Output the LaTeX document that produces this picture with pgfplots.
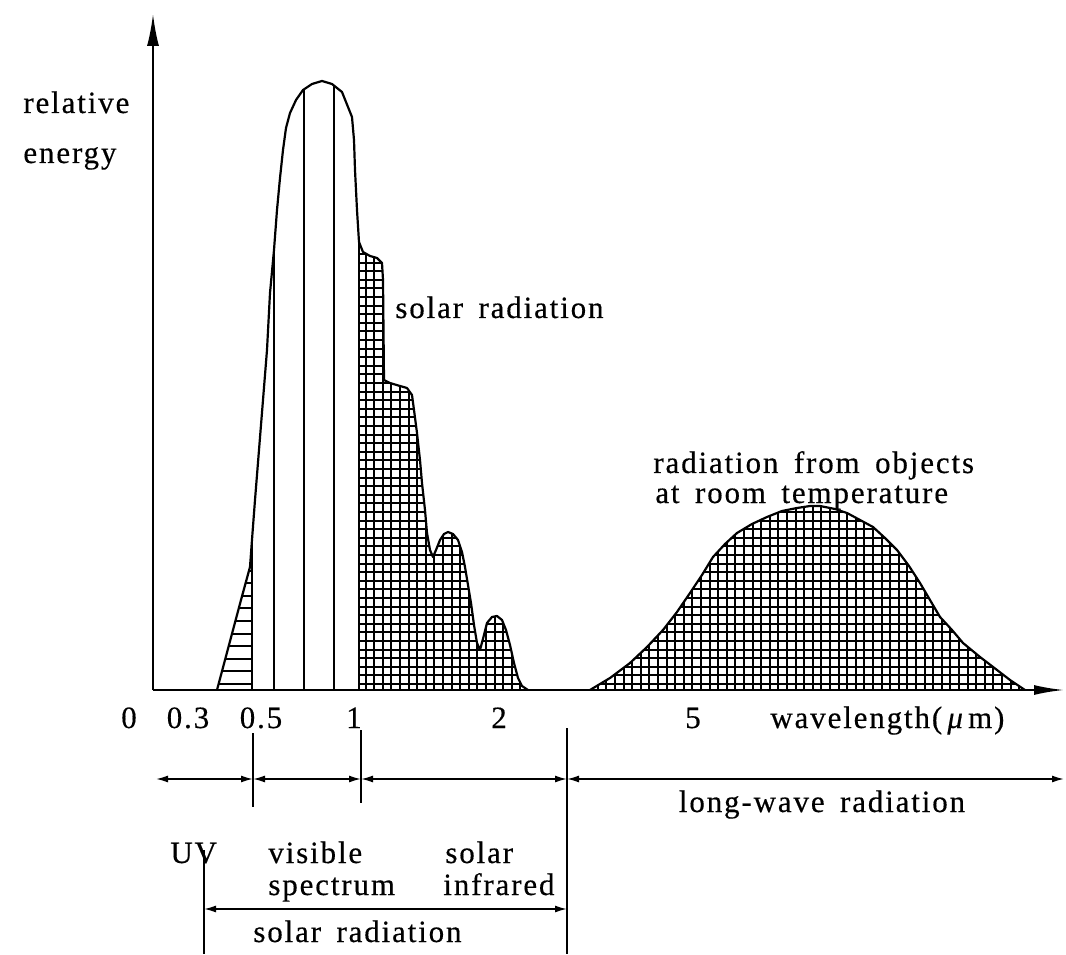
\documentclass[border=0pt]{standalone}
\usepackage{fontspec}
\setmainfont[LetterSpace=6,WordSpace={1.6},FakeBold=0.4]{Liberation Serif}
\usepackage{pgfplots}
\pgfplotsset{compat=1.18}
\usetikzlibrary{arrows.meta,patterns}

% grid hatching (solar IR and long-wave) and horizontal hatching (UV);
% tiles overlap a little so that the lines run on without seams
\pgfdeclarepatternformonly{cells}{\pgfqpoint{-0.3pt}{-0.3pt}}{\pgfqpoint{4.6pt}{4.6pt}}{\pgfqpoint{4.3pt}{4.3pt}}{%
  \pgfsetlinewidth{1pt}%
  \pgfpathmoveto{\pgfqpoint{2.15pt}{-0.3pt}}\pgfpathlineto{\pgfqpoint{2.15pt}{4.6pt}}%
  \pgfpathmoveto{\pgfqpoint{-0.3pt}{2.15pt}}\pgfpathlineto{\pgfqpoint{4.6pt}{2.15pt}}%
  \pgfusepath{stroke}}
\pgfdeclarepatternformonly{hstripes}{\pgfqpoint{-0.3pt}{0pt}}{\pgfqpoint{6.6pt}{6.3pt}}{\pgfqpoint{6.3pt}{6.3pt}}{%
  \pgfsetlinewidth{1pt}%
  \pgfpathmoveto{\pgfqpoint{-0.3pt}{3.15pt}}\pgfpathlineto{\pgfqpoint{6.6pt}{3.15pt}}%
  \pgfusepath{stroke}}

\begin{document}
\begin{tikzpicture}
\tikzset{every node/.style={font=\fontsize{15.5}{18}\selectfont, inner sep=0pt}}
\begin{axis}[
    scale only axis,
    width=533pt, height=477pt,
    xmin=0, xmax=1066,
    ymin=-264, ymax=690,
    hide axis,
    clip=false,
]
% keep the whole frame in the picture
\path (axis cs:0,-264) rectangle (axis cs:1066,690);

% UV part (horizontal hatching)
\addplot[draw=none, pattern=hstripes] coordinates {
    (217,0) (225,30) (233,60) (241,90) (250,123) (252,150) (252,0)
} -- cycle;

% solar infrared part (grid)
\addplot[draw=none, pattern=cells] coordinates {
    (359,0) (359,448) (363,438) (370,434) (377,432) (382,427) (383,410)
    (384,310) (390,307) (400,304) (407,302) (412,295) (414,280) (417,257)
    (420,230) (422,207) (425,180) (427,157) (430,140) (433,133) (436,140)
    (440,150) (444,156) (448,158) (453,156) (458,150) (462,138) (465,123)
    (468,105) (471,87) (474,65) (477,47) (480,40) (484,55) (487,67)
    (492,73) (497,74) (502,70) (506,60) (510,45) (514,27) (518,12)
    (522,4) (528,0)
} -- cycle;

% radiation from objects at room temperature (grid)
\addplot[draw=none, pattern=cells] coordinates {
    (590,0) (610,12) (630,27) (647,43) (663,60) (677,78) (690,97)
    (702,115) (713,133) (725,146) (737,157) (752,166) (767,173) (782,179)
    (797,182) (810,184) (820,184) (835,181) (847,177) (860,170) (873,163)
    (885,152) (897,140) (909,124) (920,107) (930,90) (940,73) (952,60)
    (963,47) (980,33) (997,20) (1010,10) (1025,0)
};

% solar spectrum outline
\addplot[black, line width=1.1pt, line join=round] coordinates {
    (217,0) (225,30) (233,60) (241,90) (250,123) (252.5,157) (255,190)
    (259,240) (263,290) (267,340) (270,397) (274,440) (277,480) (280,512)
    (283,540) (286,562) (290,577) (296,590) (303,600) (312,606) (322,609)
    (332,606) (342,598) (352,573) (354,550) (355,520) (357,480) (359,448)
    (363,438) (370,434) (377,432) (382,427) (383,410)
    (384,310) (390,307) (400,304) (407,302) (412,295) (414,280) (417,257)
    (420,230) (422,207) (425,180) (427,157) (430,140) (433,133) (436,140)
    (440,150) (444,156) (448,158) (453,156) (458,150) (462,138) (465,123)
    (468,105) (471,87) (474,65) (477,47) (480,40) (484,55) (487,67)
    (492,73) (497,74) (502,70) (506,60) (510,45) (514,27) (518,12)
    (522,4) (528,0)
};

% long-wave outline
\addplot[black, line width=1.1pt, line join=round] coordinates {
    (590,0) (610,12) (630,27) (647,43) (663,60) (677,78) (690,97)
    (702,115) (713,133) (725,146) (737,157) (752,166) (767,173) (782,179)
    (797,182) (810,184) (820,184) (835,181) (847,177) (860,170) (873,163)
    (885,152) (897,140) (909,124) (920,107) (930,90) (940,73) (952,60)
    (963,47) (980,33) (997,20) (1010,10) (1025,0)
};

% band boundaries inside the visible peak
\addplot[black, line width=0.9pt] coordinates {(252,0) (252,150)};
\addplot[black, line width=0.7pt] coordinates {(274,0) (274,440)};
\addplot[black, line width=0.7pt] coordinates {(304,0) (304,600)};
\addplot[black, line width=0.7pt] coordinates {(334,0) (334,604)};
\addplot[black, line width=0.9pt] coordinates {(359,0) (359,448)};

% axes
\draw[line width=1pt, -{Latex[length=16pt,width=6pt]}] (axis cs:153,0) -- (axis cs:153,676);
\draw[line width=1pt, -{Latex[length=15pt,width=5pt]}] (axis cs:153,0) -- (axis cs:1064,0);

\node[anchor=base west] at (axis cs:23,577) {relative};
\node[anchor=base west] at (axis cs:23,527) {energy};
\node[anchor=base west] at (axis cs:395,372) {solar radiation};
\node[anchor=base west] at (axis cs:653,217) {radiation from objects};
\node[anchor=base west] at (axis cs:655,187) {at room temperature};

% wavelength labels
\node[anchor=base] at (axis cs:129,-38) {0};
\node[anchor=base] at (axis cs:188,-38) {0.3};
\node[anchor=base] at (axis cs:261,-38) {0.5};
\node[anchor=base] at (axis cs:354,-38) {1};
\node[anchor=base] at (axis cs:499,-38) {2};
\node[anchor=base] at (axis cs:693,-38) {5};
\node[anchor=base west] at (axis cs:770,-38) {wavelength(\,{\itshape μ}\,m)};

% band ranges
\tikzset{band/.style={line width=0.8pt, {Latex[length=6pt,width=3.5pt]}-{Latex[length=6pt,width=3.5pt]}}}
\draw[band] (axis cs:156,-89) -- (axis cs:253,-89);
\draw[band] (axis cs:253,-89) -- (axis cs:361,-89);
\draw[band] (axis cs:361,-89) -- (axis cs:567,-89);
\draw[band] (axis cs:567,-89) -- (axis cs:1064,-89);
\draw[line width=0.9pt] (axis cs:253,-43) -- (axis cs:253,-117);
\draw[line width=0.9pt] (axis cs:361,-40) -- (axis cs:361,-113);
\draw[line width=0.9pt] (axis cs:567,-38) -- (axis cs:567,-264);
\draw[line width=0.9pt] (axis cs:204,-160) -- (axis cs:204,-264);
\draw[band] (axis cs:204,-219) -- (axis cs:567,-219);

\node[anchor=base] at (axis cs:822,-122) {long-wave radiation};
\node[anchor=base west] at (axis cs:170,-173) {UV};
\node[anchor=base west] at (axis cs:268,-173) {visible};
\node[anchor=base west] at (axis cs:268,-205) {spectrum};
\node[anchor=base west] at (axis cs:445,-173) {solar};
\node[anchor=base west] at (axis cs:443,-205) {infrared};
\node[anchor=base west] at (axis cs:253,-252) {solar radiation};
\end{axis}
\end{tikzpicture}
\end{document}
